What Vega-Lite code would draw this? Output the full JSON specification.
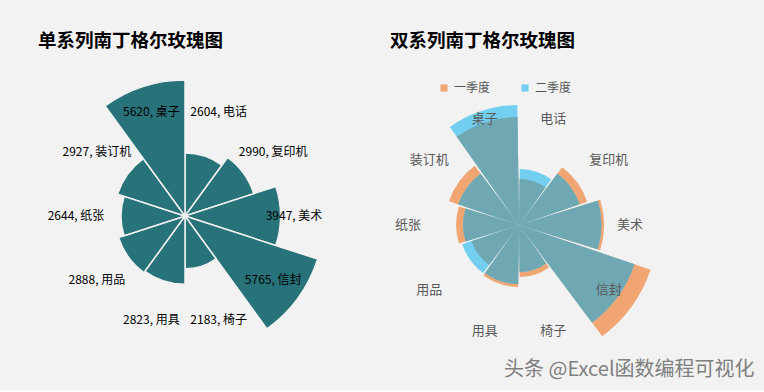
{
  "$schema": "https://vega.github.io/schema/vega-lite/v6.json",
  "background": "#f2f2f2",
  "padding": {"left": 0, "top": 31, "right": 12, "bottom": 10},
  "bounds": "flush",
  "config": {"view": {"stroke": null}, "font": "Noto Sans CJK SC"},
  "title": {"text": "头条 @Excel函数编程可视化", "orient": "bottom", "anchor": "end", "fontSize": 20, "fontWeight": "normal", "color": "#7f7f7f", "offset": 7, "dx": 104},
  "spacing": 68,
  "resolve": {"scale": {"theta": "independent", "radius": "independent", "color": "independent"}},
  "hconcat": [
    {
      "width": 370,
      "height": 238,
      "title": {"text": "单系列南丁格尔玫瑰图", "anchor": "start", "dx": 38, "offset": 27, "fontSize": 18.5, "fontWeight": "bold", "color": "#000000"},
      "data": {"values": [
        {"类别": "电话", "销量": 2604},
        {"类别": "复印机", "销量": 2990},
        {"类别": "美术", "销量": 3947},
        {"类别": "信封", "销量": 5765},
        {"类别": "椅子", "销量": 2183},
        {"类别": "用具", "销量": 2823},
        {"类别": "用品", "销量": 2888},
        {"类别": "纸张", "销量": 2644},
        {"类别": "装订机", "销量": 2927},
        {"类别": "桌子", "销量": 5620}
      ]},
      "encoding": {
        "theta": {"field": "类别", "type": "nominal", "sort": ["电话", "复印机", "美术", "信封", "椅子", "用具", "用品", "纸张", "装订机", "桌子"], "scale": {"type": "band", "paddingInner": 0, "paddingOuter": 0}}
      },
      "layer": [
        {
          "mark": {"type": "arc", "fill": "#28727a", "stroke": "#f2f2f2", "strokeWidth": 1.5},
          "encoding": {"radius": {"field": "销量", "type": "quantitative", "stack": null, "scale": {"domain": [0, 5765], "range": [0, 139.5], "nice": false, "zero": true}}}
        },
        {
          "mark": {"type": "text", "radius": 109, "fontSize": 12, "color": "#000000", "text": {"expr": "datum['销量'] + ', ' + datum['类别']"}}
        }
      ]
    },
    {
      "width": 162,
      "height": 256,
      "title": {"text": "双系列南丁格尔玫瑰图", "anchor": "start", "dx": -5, "offset": 32, "fontSize": 18.5, "fontWeight": "bold", "color": "#000000"},
      "data": {"values": [
        {"类别": "电话", "季度": "一季度", "数值": 1910},
        {"类别": "电话", "季度": "二季度", "数值": 2320},
        {"类别": "复印机", "季度": "一季度", "数值": 2990},
        {"类别": "复印机", "季度": "二季度", "数值": 2660},
        {"类别": "美术", "季度": "一季度", "数值": 3530},
        {"类别": "美术", "季度": "二季度", "数值": 3420},
        {"类别": "信封", "季度": "一季度", "数值": 5770},
        {"类别": "信封", "季度": "二季度", "数值": 5060},
        {"类别": "椅子", "季度": "一季度", "数值": 2160},
        {"类别": "椅子", "季度": "二季度", "数值": 1950},
        {"类别": "用具", "季度": "一季度", "数值": 2570},
        {"类别": "用具", "季度": "二季度", "数值": 2450},
        {"类别": "用品", "季度": "一季度", "数值": 2080},
        {"类别": "用品", "季度": "二季度", "数值": 2490},
        {"类别": "纸张", "季度": "一季度", "数值": 2610},
        {"类别": "纸张", "季度": "二季度", "数值": 2320},
        {"类别": "装订机", "季度": "一季度", "数值": 3070},
        {"类别": "装订机", "季度": "二季度", "数值": 2660},
        {"类别": "桌子", "季度": "一季度", "数值": 4480},
        {"类别": "桌子", "季度": "二季度", "数值": 4980}
      ]},
      "encoding": {
        "theta": {"field": "类别", "type": "nominal", "sort": ["电话", "复印机", "美术", "信封", "椅子", "用具", "用品", "纸张", "装订机", "桌子"], "scale": {"type": "band", "paddingInner": 0, "paddingOuter": 0}}
      },
      "layer": [
        {
          "mark": {"type": "arc", "padAngle": 0.028},
          "encoding": {
            "radius": {"field": "数值", "type": "quantitative", "stack": null, "scale": {"domain": [0, 5770], "range": [0, 139], "nice": false, "zero": true}},
            "color": {"field": "季度", "type": "nominal", "scale": {"domain": ["一季度", "二季度"], "range": ["#f0a573", "#72cff0"]},
              "legend": {"title": null, "orient": "top", "direction": "horizontal", "symbolType": "square", "symbolSize": 50, "symbolStrokeWidth": 0, "labelFontSize": 12, "labelColor": "#595959", "columnPadding": 28, "offset": 3, "labelOffset": 4}}
          }
        },
        {
          "transform": [{"aggregate": [{"op": "min", "field": "数值", "as": "重叠"}], "groupby": ["类别"]}],
          "layer": [
            {
              "mark": {"type": "arc", "fill": "#6fa8b3", "padAngle": 0.028},
              "encoding": {"radius": {"field": "重叠", "type": "quantitative", "stack": null}}
            },
            {
              "mark": {"type": "text", "radius": 111, "fontSize": 13, "color": "#595959"},
              "encoding": {"text": {"field": "类别", "type": "nominal"}}
            }
          ]
        }
      ]
    }
  ]
}
